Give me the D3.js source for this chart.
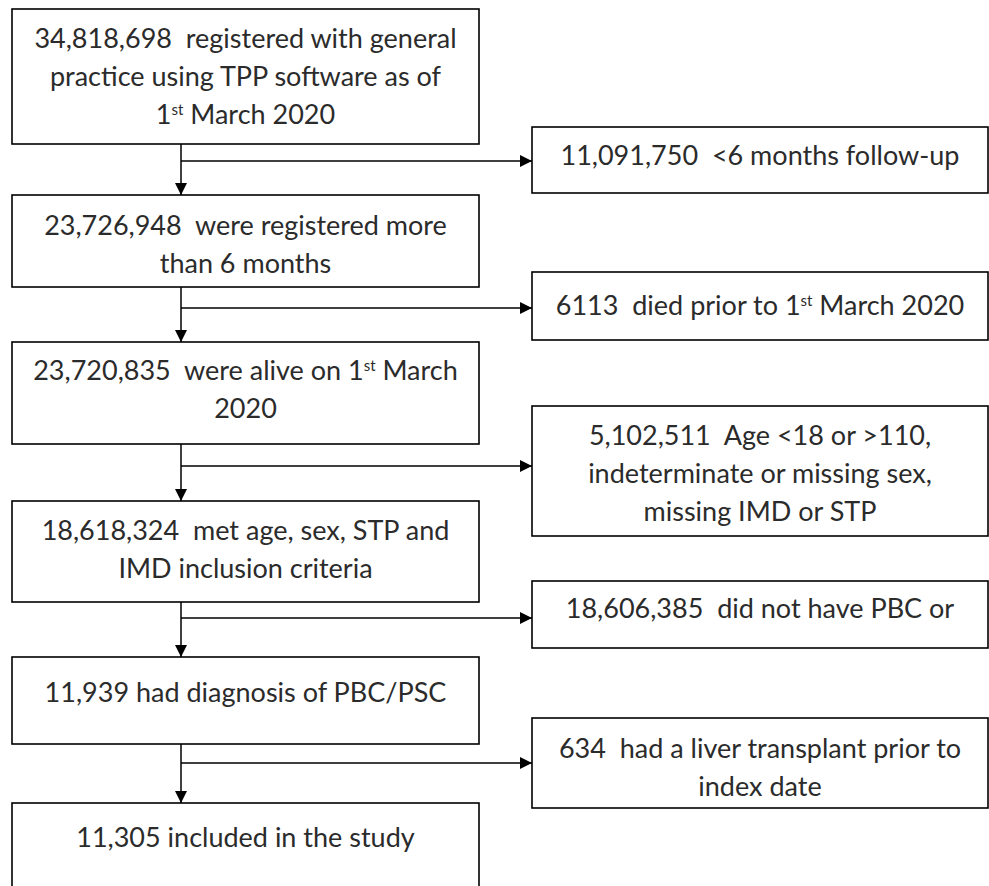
<!DOCTYPE html>
<html>
<head>
<meta charset="utf-8">
<script src="https://cdn.jsdelivr.net/npm/d3@7"></script>
<style>
body{margin:0;background:#fff;}
svg{display:block;}
</style>
</head>
<body>
<svg id="chart"></svg>
<script>
var width=989, height=886;

// counts at each step of the flow
var mainN=["34,818,698","23,726,948","23,720,835","18,618,324","11,939","11,305"];
var mainText=[
    ["{n}  registered with general","practice using TPP software as of","1^st March 2020"],
    ["{n}  were registered more","than 6 months"],
    ["{n}  were alive on 1^st March","2020"],
    ["{n}  met age, sex, STP and","IMD inclusion criteria"],
    ["{n} had diagnosis of PBC/PSC"],
    ["{n} included in the study"]
];
// excluded at each step
var exclN=["11,091,750","6113","5,102,511","18,606,385","634"];
var exclText=[
    ["{n}  <6 months follow-up"],
    ["{n}  died prior to 1^st March 2020"],
    ["{n}  Age <18 or >110,","indeterminate or missing sex,","missing IMD or STP"],
    ["{n}  did not have PBC or"],
    ["{n}  had a liver transplant prior to","index date"]
];

// layout (page pixels)
var mainTop=[9,195,342,501,657,803], mainBot=[144,287,444,602,744,900];
var exclTop=[127,272,406,581,718], exclBot=[193,340,536,648,808];
var branchY=[161,308,466,618,763];
var mainPad=[29,30,28,29,35,34], exclPad=[28,33,29,27,30];
var mainX0=12, mainX1=479, stemX=181, exclX0=532, exclX1=988;
var fontSize=27, lineH=38;

var svg=d3.select("#chart").attr("width",width).attr("height",height);

svg.append("defs").append("marker")
    .attr("id","arrow")
    .attr("viewBox","0 0 10 10")
    .attr("refX",10).attr("refY",5)
    .attr("markerUnits","userSpaceOnUse")
    .attr("markerWidth",13).attr("markerHeight",12)
    .attr("orient","auto")
    .append("path").attr("d","M0,0L10,5L0,10Z").attr("fill","#000");

var main=mainN.map(function(n,i){
    return {lines:mainText[i].map(function(t){return t.replace("{n}",n);}),
            x0:mainX0,x1:mainX1,top:mainTop[i],bot:mainBot[i],pad:mainPad[i]};
});
var excl=exclN.map(function(n,i){
    return {lines:exclText[i].map(function(t){return t.replace("{n}",n);}),
            x0:exclX0,x1:exclX1,top:exclTop[i],bot:exclBot[i],pad:exclPad[i]};
});

// connectors
var links=svg.append("g").attr("class","links");
links.selectAll("line.stem")
    .data(d3.range(main.length-1))
    .enter().append("line")
    .attr("class","stem")
    .attr("x1",stemX).attr("x2",stemX)
    .attr("y1",function(i){return main[i].bot;})
    .attr("y2",function(i){return main[i+1].top;})
    .attr("stroke","#000").attr("stroke-width",1.5)
    .attr("marker-end","url(#arrow)");
links.selectAll("line.branch")
    .data(branchY)
    .enter().append("line")
    .attr("class","branch")
    .attr("x1",stemX).attr("x2",exclX0)
    .attr("y1",function(d){return d;}).attr("y2",function(d){return d;})
    .attr("stroke","#000").attr("stroke-width",1.5)
    .attr("marker-end","url(#arrow)");

function drawBoxes(cls,data){
    var g=svg.append("g").attr("class",cls)
        .selectAll("g").data(data).enter().append("g");
    g.append("rect")
        .attr("x",function(d){return d.x0;})
        .attr("y",function(d){return d.top;})
        .attr("width",function(d){return d.x1-d.x0;})
        .attr("height",function(d){return d.bot-d.top;})
        .attr("fill","#fff").attr("stroke","#000").attr("stroke-width",1.6);
    g.each(function(d){
        var box=d3.select(this);
        d.lines.forEach(function(line,j){
            var t=box.append("text")
                .attr("x",(d.x0+d.x1)/2)
                .attr("y",d.top+d.pad+j*lineH+fontSize*0.36)
                .attr("text-anchor","middle")
                .style("white-space","pre")
                .style("font-family","Lato, 'Open Sans', sans-serif")
                .style("font-size",fontSize+"px")
                .attr("fill","#2b2b2b");
            var parts=line.split(/\^(st)/);
            var shift=0;
            parts.forEach(function(p,k){
                if(k%2==1){
                    t.append("tspan").attr("dy",-9).style("font-size","15px").text(p);
                    shift=9;
                }else if(p.length){
                    t.append("tspan").attr("dy",shift).text(p);
                    shift=0;
                }
            });
        });
    });
}
drawBoxes("main",main);
drawBoxes("excl",excl);
</script>
</body>
</html>
